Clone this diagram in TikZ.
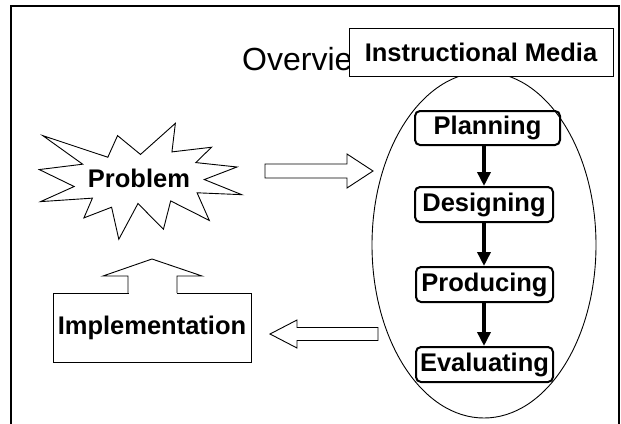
\documentclass[tikz,border=0pt]{standalone}
\usepackage{fontspec}
\setmainfont{Liberation Sans}
\usetikzlibrary{arrows.meta,shapes.geometric}
\begin{document}
\begin{tikzpicture}[x=1pt,y=-1pt,
  lbl/.style={font=\fontsize{25.5}{30}\selectfont\bfseries},
  stage/.style={draw, line width=2pt, rounded corners=5pt, inner sep=0pt, lbl},
  flow/.style={-{Triangle[length=14pt,width=13pt]}, line width=3.5pt},
  thin/.style={line width=0.9pt, line join=miter},
  block/.style={thin, draw, fill=white}]
\useasboundingbox (0,0) rectangle (621,423);
% slide frame
\draw[line width=2.2pt] (11,440) -- (11,6) -- (619,6) -- (619,440);
% title
\node[anchor=base west, inner sep=0pt, font=\fontsize{32}{38}\selectfont] (ov) at (242,70) {Overview};
% ellipse
\node[draw, thin, ellipse, inner sep=0pt, minimum width=224, minimum height=346] (media) at (484,245) {};
% instructional media box
\node[block, lbl, minimum width=264, minimum height=48, inner sep=0pt] (im) at (481,52) {Instructional Media};
% stages
\node[stage, minimum width=145, minimum height=34] (plan) at (487.5,128) {Planning};
\node[stage, minimum width=138, minimum height=35] (des) at (484,204.5) {Designing};
\node[stage, minimum width=137, minimum height=35] (prod) at (484.5,284.5) {Producing};
\node[stage, minimum width=137, minimum height=35] (eval) at (484.5,364.5) {Evaluating};
\draw[flow] (des.north |- plan.south) -- (des.north);
\draw[flow] (des.south) -- (des.south |- prod.north);
\draw[flow] (des.south |- prod.south) -- (des.south |- eval.north);
% explosion
\begin{scope}[shift={(39.3,123.3)}, xscale=0.0937, yscale=0.0537]
\draw[thin, fill=white] (1080,580) -- (1452.2,0) -- (1415.5,532.5) -- (1838,445.7) -- (1670.2,731.5)
 -- (2109.7,813.7) -- (1760.7,1047.5) -- (2160,1329) -- (1683.7,1294.2) -- (1814.5,1809.5)
 -- (1402,1445.7) -- (1324.7,1973.7) -- (1053.2,1493.5) -- (848.5,2160) -- (771.5,1562.7)
 -- (476.2,1761.7) -- (566.7,1393.7) -- (13.5,1458.7) -- (372.2,1177.5) -- (0,861.5)
 -- (462.7,761.7) -- (37,229.5) -- (731.2,632) -- (835.2,229.5) -- cycle;
\end{scope}
\node[lbl, inner sep=0pt] (prob) at (139,178) {Problem};
% block arrow to the right
\draw[block] (265,164) -- (347,164) -- (347,154) -- (373,171) -- (347,188) -- (347,178) -- (265,178) -- cycle;
% implementation
\node[block, lbl, minimum width=198, minimum height=69, inner sep=0pt] (impl) at (152,327.5) {Implementation};
% up arrow from implementation
\fill[white] (128.5,276) rectangle (176.5,294);
\draw[thin] (128,293) -- (128,276) -- (103,276) -- (152,259) -- (202,276) -- (177,276) -- (177,293);
% block arrow to the left
\draw[block] (378,327.5) -- (297,327.5) -- (297,320) -- (270,334) -- (297,348) -- (297,340.5) -- (378,340.5) -- cycle;
\end{tikzpicture}
\end{document}
